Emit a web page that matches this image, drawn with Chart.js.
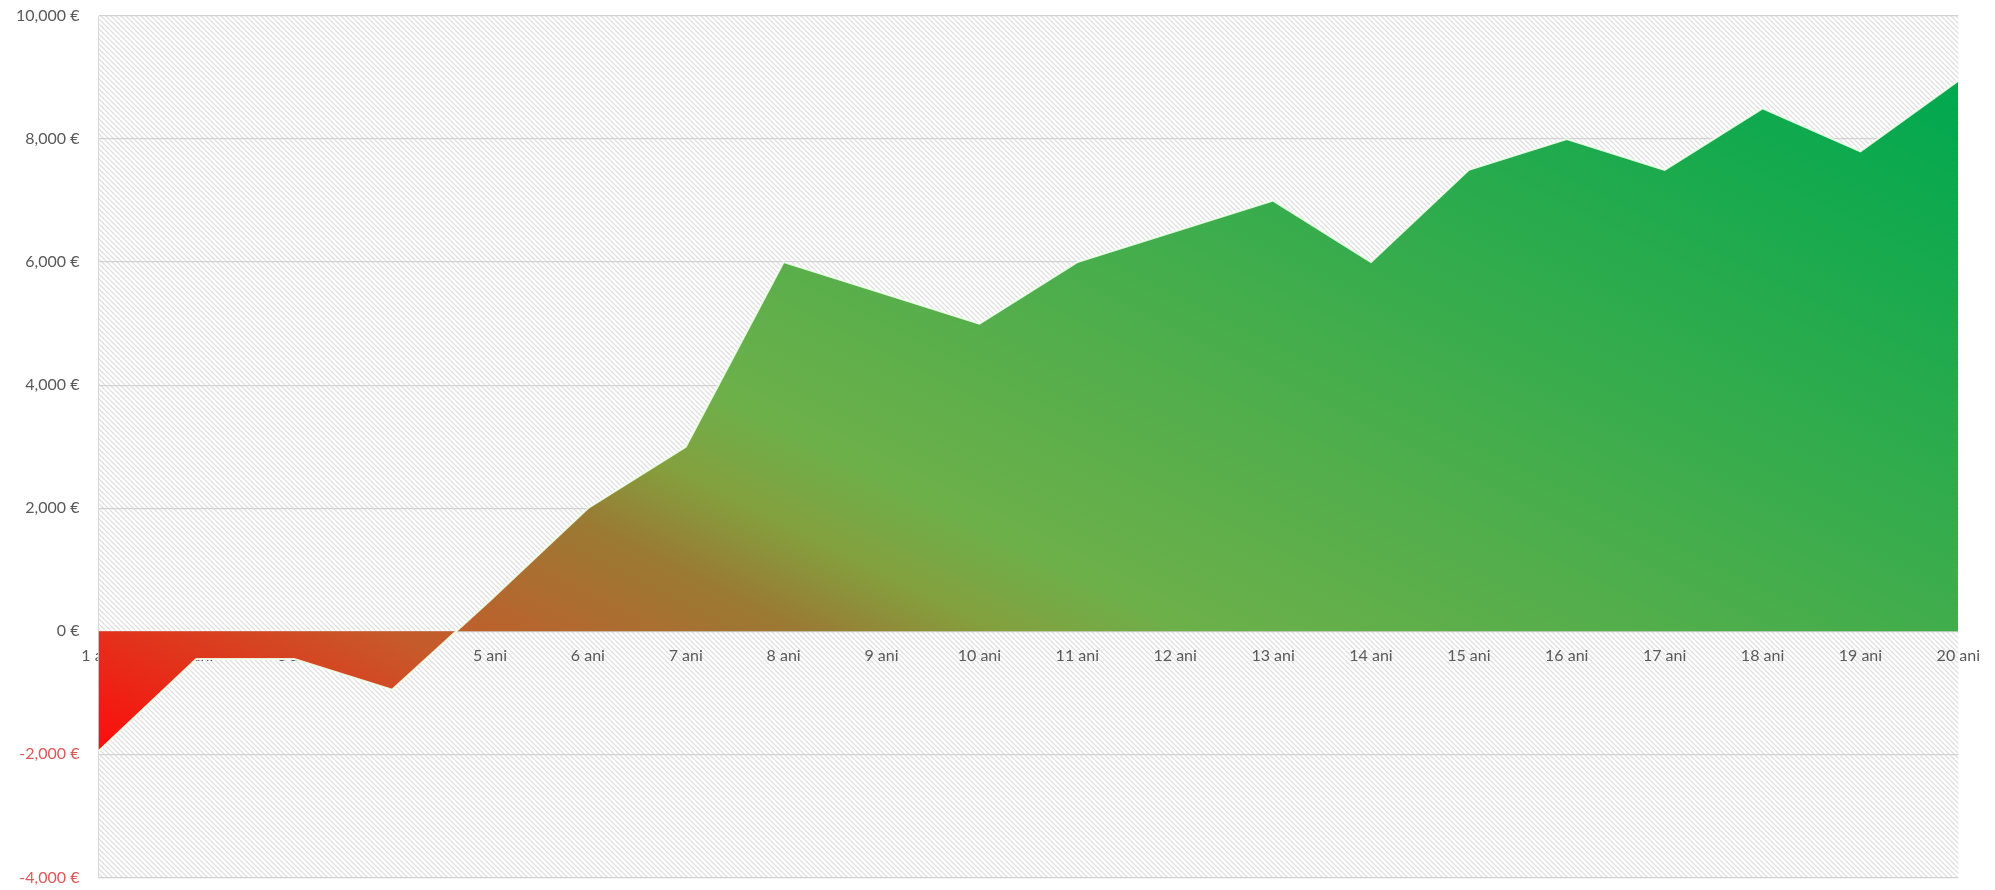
<!DOCTYPE html>
<html>
<head>
<meta charset="utf-8">
<script src="https://cdn.jsdelivr.net/npm/chart.js@4.4.1/dist/chart.umd.min.js"></script>
<style>
    body { margin: 0; background: #fff; }
    #wrap { width: 1995px; height: 890px; }
</style>
</head>
<body>
<div id="wrap"><canvas id="profitChart"></canvas></div>
<script>
        // Data
        const years = ['1 ani', '2 ani', '3 ani', '4 ani', '5 ani', '6 ani', '7 ani', '8 ani', '9 ani', '10 ani',
                       '11 ani', '12 ani', '13 ani', '14 ani', '15 ani', '16 ani', '17 ani', '18 ani', '19 ani', '20 ani'];
        const profit = [-1950, -450, -450, -950, 500, 2000, 3000, 6000, 5500, 5000,
                        6000, 6500, 7000, 6000, 7500, 8000, 7500, 8500, 7800, 8950];
        const yTicks = { min: -4000, max: 10000, step: 2000 };

        // Diagonal hatch for plot background
        function makeHatch() {
            const s = 5;
            const c = document.createElement('canvas');
            c.width = s; c.height = s;
            const g = c.getContext('2d');
            g.fillStyle = '#ffffff';
            g.fillRect(0, 0, s, s);
            g.strokeStyle = '#e0e0e0';
            g.lineWidth = 1.3;
            for (let k = -1; k <= 1; k++) {
                g.beginPath();
                g.moveTo(k * s, 0);
                g.lineTo(k * s + s, s);
                g.stroke();
            }
            return c;
        }

        const hatchPlugin = {
            id: 'hatch',
            beforeDraw(chart) {
                const a = chart.chartArea;
                const ctx = chart.ctx;
                ctx.save();
                ctx.fillStyle = ctx.createPattern(makeHatch(), 'repeat');
                ctx.fillRect(a.left, a.top, a.right - a.left, a.bottom - a.top);
                ctx.restore();
            }
        };

        function areaGradient(context) {
            const chart = context.chart;
            const a = chart.chartArea;
            if (!a) return '#4caf50';
            const w = a.right - a.left, h = a.bottom - a.top;
            const sx = a.left, sy = a.top + h * 0.865;
            const g = chart.ctx.createLinearGradient(sx, sy, sx + w * 0.346, sy - h * 1.495);
            g.addColorStop(0.0, '#ff0a0a');
            g.addColorStop(0.08, '#e4301a');
            g.addColorStop(0.17, '#c65a2a');
            g.addColorStop(0.30, '#9a7a34');
            g.addColorStop(0.36, '#84a03e');
            g.addColorStop(0.42, '#6db04a');
            g.addColorStop(0.65, '#42ad4c');
            g.addColorStop(1.0, '#00a84f');
            return g;
        }

        new Chart(document.getElementById('profitChart'), {
            type: 'line',
            data: {
                labels: years,
                datasets: [{
                    data: profit,
                    fill: 'origin',
                    backgroundColor: areaGradient,
                    borderColor: 'rgba(240,255,236,0.9)',
                    borderWidth: 2,
                    pointRadius: 0,
                    tension: 0
                }]
            },
            options: {
                responsive: true,
                maintainAspectRatio: false,
                animation: false,
                layout: { padding: { left: 13, right: 34, top: 16, bottom: 0 } },
                plugins: { legend: { display: false }, tooltip: { enabled: false } },
                scales: {
                    x: {
                        position: { y: 0 },
                        offset: false,
                        grid: { display: false, drawTicks: false },
                        border: { display: false },
                        ticks: {
                            color: '#595959',
                            font: { family: 'Lato', size: 16 },
                            padding: 15,
                            maxRotation: 0,
                            autoSkip: false
                        }
                    },
                    y: {
                        min: yTicks.min,
                        max: yTicks.max,
                        // tick marks kept but invisible, so label gap stays while top padding is small
                        grid: { color: '#d2d2d2', lineWidth: 1.3, drawTicks: true, tickLength: 16, tickColor: 'rgba(0,0,0,0)' },
                        border: { display: true, color: '#d9d9d9' },
                        ticks: {
                            stepSize: yTicks.step,
                            padding: 3,
                            font: { family: 'Lato', size: 16 },
                            color: (c) => c.tick && c.tick.value < 0 ? '#d85a5a' : '#595959',
                            callback: (v) => v.toLocaleString('en-US') + ' €'
                        }
                    }
                }
            },
            plugins: [hatchPlugin]
        });
</script>
</body>
</html>
